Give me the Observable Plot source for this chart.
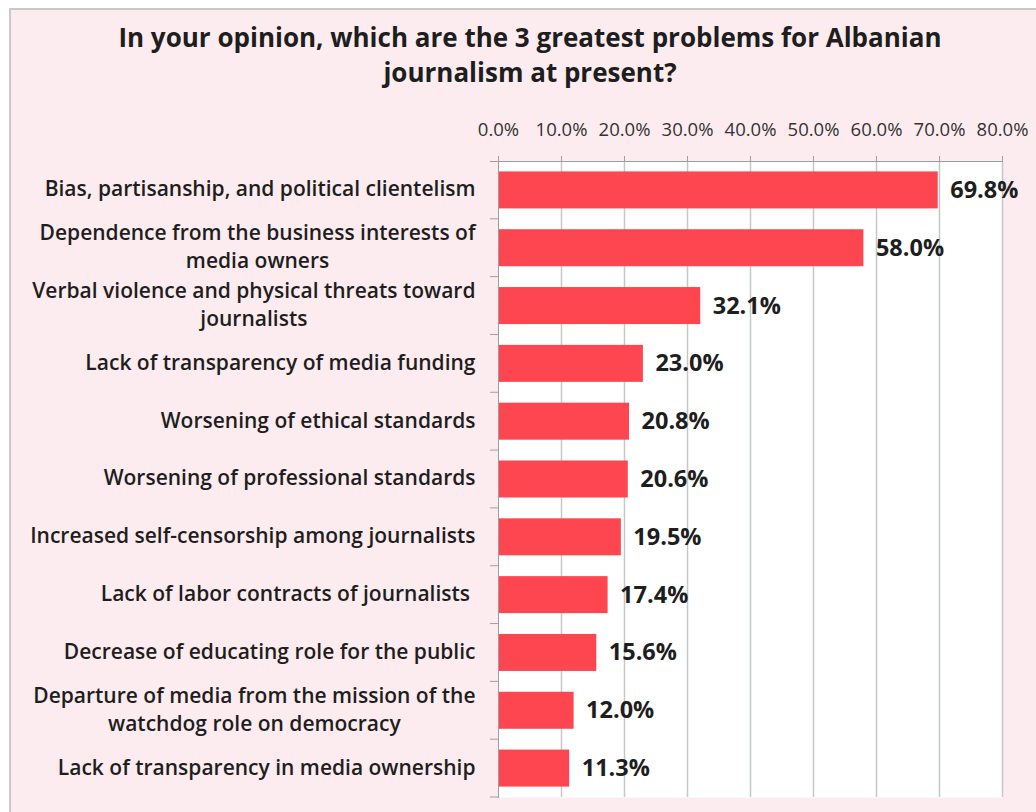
<!DOCTYPE html>
<html>
<head>
<meta charset="utf-8">
<script src="https://cdn.jsdelivr.net/npm/d3@7"></script>
<script src="https://cdn.jsdelivr.net/npm/@observablehq/plot@0.6"></script>
<style>
  html, body { margin: 0; padding: 0; background: #ffffff; }
  #wrap { position: relative; width: 1036px; height: 812px; overflow: hidden; font-family: "Open Sans", sans-serif; }
  #box { position: absolute; left: 9px; top: 8px; width: 1060px; height: 830px; border: 2px solid #c9c9c9; background: #fdecef; }
  #title { position: absolute; left: 0; top: 20px; width: 1060px; text-align: center; font-size: 26px; font-weight: 700; line-height: 35px; color: #1e1e1e; }
  #chart { position: absolute; left: 0; top: 90px; }
</style>
</head>
<body>
<div id="wrap">
  <div id="box"></div>
  <div id="title">In your opinion, which are the 3 greatest problems for Albanian<br>journalism at present?</div>
  <div id="chart"></div>
</div>
<script>
const categories = [
  "Bias, partisanship, and political clientelism",
  "Dependence from the business interests of\nmedia owners",
  "Verbal violence and physical threats toward\njournalists",
  "Lack of transparency of media funding",
  "Worsening of ethical standards",
  "Worsening of professional standards",
  "Increased self-censorship among journalists",
  "Lack of labor contracts of journalists\u00a0",
  "Decrease of educating role for the public",
  "Departure of media from the mission of the\nwatchdog role on democracy",
  "Lack of transparency in media ownership"
];
const values = [69.8, 58.0, 32.1, 23.0, 20.8, 20.6, 19.5, 17.4, 15.6, 12.0, 11.3];
const xTicks = [0, 10, 20, 30, 40, 50, 60, 70, 80];

const data = categories.map((c, i) => ({category: c, value: values[i]}));
const fmt = d => d.toFixed(1) + "%";

const boundaryTicks = (index, scales, vals, dims) => {
  const g = d3.create("svg:g");
  const y = scales.y;
  const bw = y.bandwidth ? y.bandwidth() : 0;
  const step = y(categories[1]) - y(categories[0]);
  const x0 = dims.marginLeft;
  categories.forEach((c, i) => {
    const yc = y(c) + bw / 2;
    const yb = yc + step / 2;
    g.append("line").attr("x1", x0 - 8).attr("x2", x0).attr("y1", yb).attr("y2", yb)
      .attr("stroke", "#9aa0a2").attr("stroke-width", 1);
  });
  return g.node();
};

const chart = Plot.plot({
  width: 1036,
  height: 722,
  marginLeft: 498,
  marginRight: 34,
  marginTop: 71,
  marginBottom: 15,
  style: { background: "transparent", fontFamily: "Open Sans, sans-serif" },
  x: { domain: [0, 80], axis: null, label: null },
  y: { domain: categories, paddingInner: 0.36, paddingOuter: 0.18, round: false, axis: null, label: null },
  marks: [
    Plot.frame({ fill: "white", stroke: null }),
    Plot.gridX(xTicks.slice(1), { stroke: "#c3c9cb", strokeOpacity: 1, strokeWidth: 1.5 }),
    Plot.barX(data, { x: "value", y: "category", fill: "#fd4650" }),
    Plot.frame({ anchor: "top", stroke: "#9aa0a2", insetLeft: -8 }),
    Plot.frame({ anchor: "left", stroke: "#9aa0a2" }),
    boundaryTicks,
    Plot.axisX(xTicks, {
      anchor: "top", tickSize: 6, tickPadding: 20, stroke: "#9aa0a2", label: null,
      tickFormat: fmt, fontSize: 18.5, fill: "#333"
    }),
    Plot.axisY({
      anchor: "left", tickSize: 0, tickPadding: 23, dy: -3, fontSize: 21, fontWeight: 600, label: null,
      fill: "#1e1e1e", lineHeight: 1.33, textOverflow: null, lineWidth: Infinity
    }),
    Plot.text(data, {
      x: "value", y: "category", text: d => fmt(d.value), textAnchor: "start",
      dx: 12, fontSize: 23.5, fontWeight: 700, fill: "#1e1e1e"
    })
  ]
});

document.getElementById("chart").appendChild(chart);

// Center multi-line tick labels relative to each other (right-aligned block)
chart.querySelectorAll("text").forEach(t => {
  const spans = t.querySelectorAll("tspan");
  if (spans.length > 1) {
    let maxW = 0;
    spans.forEach(s => { maxW = Math.max(maxW, s.getComputedTextLength()); });
    t.setAttribute("text-anchor", "middle");
    spans.forEach(s => s.setAttribute("x", -maxW / 2));
  }
});
</script>
</body>
</html>
